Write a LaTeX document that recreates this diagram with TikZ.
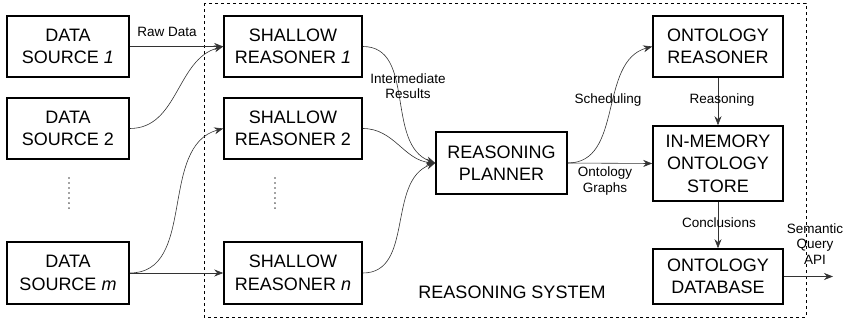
\documentclass[tikz,border=0pt]{standalone}
\usepackage{fontspec}
\setmainfont{Liberation Sans}
\usetikzlibrary{arrows.meta}
\begin{document}
\begin{tikzpicture}[x=1pt,y=-1pt,
  box/.style={draw=black,line width=1.6pt,align=center,font=\fontsize{18}{22.5}\selectfont,inner sep=0pt},
  conn/.style={draw=black!80,line width=0.6pt,-{Stealth[length=9pt,width=7pt,inset=3pt]}},
  lbl/.style={font=\fontsize{13.5}{15.5}\selectfont,align=center,inner sep=0pt},
  dotsv/.style={draw=black,line width=1.2pt,dash pattern=on 0.01pt off 5pt,line cap=round}]
\useasboundingbox (0,0) rectangle (847,324);
\draw[dashed,line width=0.6pt] (204,3) rectangle (806,317);
\node[box,minimum width=122pt,minimum height=61pt] (ds1) at (68,46.5) {DATA\\SOURCE \textit{1}};
\node[box,minimum width=122pt,minimum height=61pt] (ds2) at (68,128.5) {DATA\\SOURCE 2};
\node[box,minimum width=122pt,minimum height=62pt] (dsm) at (68,273) {DATA\\SOURCE \textit{m}};
\node[box,minimum width=138pt,minimum height=61pt] (sr1) at (293,46.5) {SHALLOW\\REASONER \textit{1}};
\node[box,minimum width=138pt,minimum height=61pt] (sr2) at (293,128.5) {SHALLOW\\REASONER 2};
\node[box,minimum width=138pt,minimum height=62pt] (srn) at (293,273) {SHALLOW\\REASONER \textit{n}};
\node[box,minimum width=131pt,minimum height=62pt] (rp) at (501.5,163) {REASONING\\PLANNER};
\node[box,minimum width=130pt,minimum height=61pt] (or) at (718,46.5) {ONTOLOGY\\REASONER};
\node[box,minimum width=130pt,minimum height=75pt] (im) at (718,163.5) {IN-MEMORY\\ONTOLOGY\\STORE};
\node[box,minimum width=130pt,minimum height=55pt] (db) at (718,276.5) {ONTOLOGY\\DATABASE};
\coordinate (d1a) at (69,178); \coordinate (d1b) at (69,213);
\coordinate (d2a) at (275,178); \coordinate (d2b) at (275,213);
\draw[dotsv] (d1a) -- (d1b);
\draw[dotsv] (d2a) -- (d2b);
\coordinate (api) at (833,276.5);
\draw[conn] (ds1) -- (sr1);
\draw[conn] (ds2.east) to[out=0,in=195,looseness=1] (sr1.west);
\draw[conn] (dsm.east) to[out=0,in=195,looseness=1] (sr2.west);
\draw[conn] (dsm) -- (srn);
\draw[conn] (sr1.east) to[out=0,in=160,looseness=1] (rp.west);
\draw[conn] (sr2.east) to[out=0,in=175,looseness=1] (rp.west);
\draw[conn] (srn.east) to[out=0,in=200,looseness=1] (rp.west);
\draw[conn] (rp.east) to[out=0,in=195,looseness=1] (or.west);
\draw[conn] (rp.east) -- (im.west);
\draw[conn] (or) -- (im);
\draw[conn] (im) -- (db);
\draw[conn] (db.east) -- (api);
\node[lbl] (lraw) at (167,32) {Raw Data};
\node[lbl] (lint) at (408,86) {Intermediate\\Results};
\node[lbl] (lsch) at (608,100) {Scheduling};
\node[lbl] (lrea) at (722,100) {Reasoning};
\node[lbl] (lgra) at (605,181) {Ontology\\Graphs};
\node[lbl] (lcon) at (719,223) {Conclusions};
\node[lbl] (lapi) at (815,244) {Semantic\\Query\\API};
\node[font=\fontsize{18}{22}\selectfont,inner sep=0pt] (rs) at (512,292) {REASONING SYSTEM};
\end{tikzpicture}
\end{document}
